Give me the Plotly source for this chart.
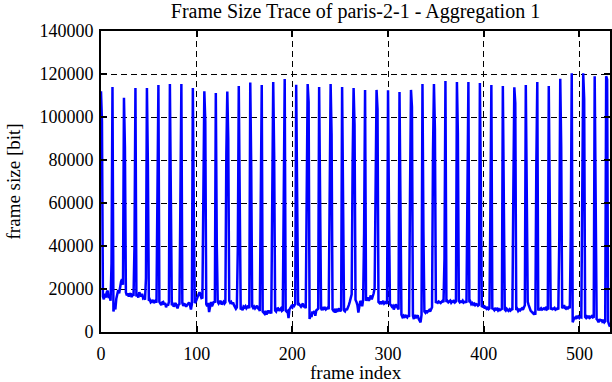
import plotly.graph_objects as go

# Frame sizes in bits, split into chunks of frames
frames_000_095 = [
    112000, 98000, 16500, 15200, 17800, 16000, 18500, 19200, 15800, 17000, 14500, 32000,
    114000, 9500, 12000, 10500, 15500, 17000, 19500, 18000, 21000, 23500, 24500, 22000,
    109000, 86000, 18500, 17000, 18000, 16500, 17500, 18000, 16200, 17800, 16800, 40000,
    113500, 16500, 17500, 16000, 18500, 17000, 16500, 17800, 15800, 16200, 15000, 25000,
    113500, 78000, 14500, 15000, 13800, 14200, 15000, 13500, 14000, 14800, 13600, 54000,
    114900, 14000, 13000, 12500, 13800, 14000, 12800, 13500, 11500, 13000, 12200, 14000,
    115300, 66500, 12500, 13000, 11800, 12800, 13500, 12000, 11000, 12600, 13000, 61400,
    115300, 13500, 12200, 13000, 12800, 11800, 12500, 13200, 13800, 12600, 10500, 13000,
]
frames_096_191 = [
    113500, 56000, 13500, 14000, 15500, 16800, 17500, 18500, 17000, 15800, 16000, 74000,
    112000, 98000, 13000, 12000, 13500, 9300, 12500, 14000, 12000, 13000, 14200, 13600,
    111200, 41000, 14000, 13200, 13800, 14500, 12800, 13600, 14000, 13200, 13800, 83000,
    111800, 90000, 14500, 13600, 14000, 13000, 13800, 12500, 11200, 10800, 11500, 39000,
    114400, 31000, 10500, 11000, 10200, 11800, 11400, 12000, 11000, 11600, 12200, 11000,
    116000, 77200, 12000, 11200, 11800, 11000, 11600, 12200, 11000, 10800, 9800, 55000,
    114900, 9500, 9000, 8500, 9800, 8200, 9200, 10000, 8800, 9400, 8600, 65000,
    116300, 82000, 10000, 9500, 10800, 11000, 9800, 10500, 11000, 9800, 10200, 61800,
]
frames_192_287 = [
    117700, 10000, 9500, 9800, 6500, 10500, 11000, 12000, 11500, 12800, 12200, 13000,
    115000, 55300, 12500, 13000, 12000, 11800, 12600, 13200, 11500, 12000, 11000, 70000,
    115300, 107000, 6000, 8000, 7000, 9500, 8500, 9800, 7500, 10000, 10500, 10800,
    114000, 45000, 11000, 10200, 11500, 10800, 11200, 10500, 11000, 11400, 10600, 81600,
    115300, 92000, 10500, 9800, 10200, 9000, 10800, 9500, 10000, 11000, 9600, 10400,
    114000, 38000, 10000, 9600, 10800, 10200, 11000, 12500, 14000, 16000, 17500, 79200,
    113500, 96300, 15000, 14000, 12500, 9000, 13000, 14500, 13500, 12000, 15000, 46000,
    112600, 14500, 15500, 16000, 14500, 15800, 17000, 15200, 16500, 18000, 20500, 69800,
]
frames_288_383 = [
    112600, 103700, 14000, 13500, 14200, 13000, 13800, 14500, 13200, 13600, 14000, 13000,
    112400, 55500, 13000, 12500, 11800, 12200, 10500, 11500, 12800, 12000, 11000, 10500,
    111600, 55000, 8000, 7000, 7500, 6500, 8000, 7200, 6800, 7800, 7000, 65700,
    112600, 104800, 7500, 6000, 8000, 6500, 7000, 7800, 6200, 5500, 4500, 8000,
    115300, 46500, 9500, 9000, 10000, 9200, 9800, 10200, 9500, 10500, 11500, 83900,
    115300, 94400, 13500, 14000, 13600, 14200, 13800, 13500, 14000, 14500, 13800, 34000,
    116700, 14000, 14500, 13800, 14200, 14600, 13600, 14200, 14000, 14800, 13800, 14200,
    116300, 92700, 14500, 13800, 14200, 14000, 14600, 13700, 14000, 14200, 13600, 60000,
]
frames_384_479 = [
    116300, 13800, 14200, 13000, 13500, 12800, 13200, 12500, 13000, 12800, 12200, 12600,
    115800, 70200, 12000, 11800, 12400, 11000, 11500, 10800, 11200, 10600, 11000, 56700,
    114900, 11000, 10800, 10200, 11200, 10500, 10800, 10000, 10600, 10200, 10400, 10800,
    114400, 58600, 10500, 10000, 10800, 10200, 9800, 10500, 10000, 10600, 10200, 67000,
    113800, 106500, 10200, 10800, 9800, 10400, 10000, 10600, 11000, 10400, 11500, 12500,
    114900, 51300, 14000, 12500, 11000, 10000, 9500, 9000, 8500, 9000, 8000, 77700,
    116300, 10000, 10800, 10500, 11000, 10400, 10800, 11000, 10600, 11200, 10500, 10800,
    114400, 36300, 10500, 11000, 10600, 10800, 11200, 10400, 10800, 11000, 10500, 44300,
]
frames_480_532 = [
    117800, 86200, 11000, 11500, 12500, 11200, 10800, 11400, 11000, 11600, 11000, 44600,
    120300, 4500, 6500, 7000, 6000, 7500, 6800, 7200, 6500, 7000, 6800, 74000,
    120300, 108500, 7000, 6500, 7200, 6800, 7500, 6600, 7000, 7400, 6800, 7000,
    119000, 52000, 6000, 5500, 4500, 6000, 5000, 5800, 4800, 5200, 4500, 5000,
    119000, 117500, 5000, 3500, 2500,
]

frame_size = (frames_000_095 + frames_096_191 + frames_192_287
              + frames_288_383 + frames_384_479 + frames_480_532)
frame_index = list(range(len(frame_size)))

title_text = "Frame Size Trace of paris-2-1 - Aggregation 1"
x_label = "frame index"
y_label = "frame size [bit]"

font_family = "Liberation Serif, Times New Roman, serif"

fig = go.Figure()
fig.add_trace(go.Scatter(
    x=frame_index, y=frame_size, mode="lines",
    line=dict(color="#0000ff", width=2.5),
    showlegend=False,
))

axis_common = dict(
    showline=True, linecolor="black", linewidth=2, mirror="ticks",
    ticks="inside", ticklen=6, tickwidth=1.5, tickcolor="black",
    showgrid=True, gridcolor="black", gridwidth=1, griddash="6px,4px",
    zeroline=False, automargin=False,
    tickfont=dict(family=font_family, size=18, color="black"),
)

fig.update_layout(
    width=612, height=382,
    margin=dict(l=101, r=2, t=31, b=50, autoexpand=False),
    paper_bgcolor="white", plot_bgcolor="white",
    title=dict(text=title_text, x=0.5, xanchor="center", xref="paper",
               yref="container", y=0.972, yanchor="middle", automargin=False,
               font=dict(family=font_family, size=20, color="black")),
    xaxis=dict(range=[0, 532], tickmode="linear", tick0=0, dtick=100,
               ticklabelstandoff=4, **axis_common),
    yaxis=dict(range=[0, 140000], tickmode="linear", tick0=0, dtick=20000,
               tickformat="d", ticklabelstandoff=2, **axis_common),
    annotations=[
        dict(text=x_label, xref="paper", yref="paper", x=0.5, y=-0.135,
             xanchor="center", yanchor="middle", showarrow=False,
             font=dict(family=font_family, size=19, color="black")),
        dict(text=y_label, xref="paper", yref="paper", x=-0.171, y=0.5,
             xanchor="center", yanchor="middle", textangle=-90, showarrow=False,
             font=dict(family=font_family, size=19, color="black")),
    ],
)

fig.write_html("out.html", config={"displayModeBar": False},
               post_script="document.body.style.margin='0';document.body.style.padding='0';")
